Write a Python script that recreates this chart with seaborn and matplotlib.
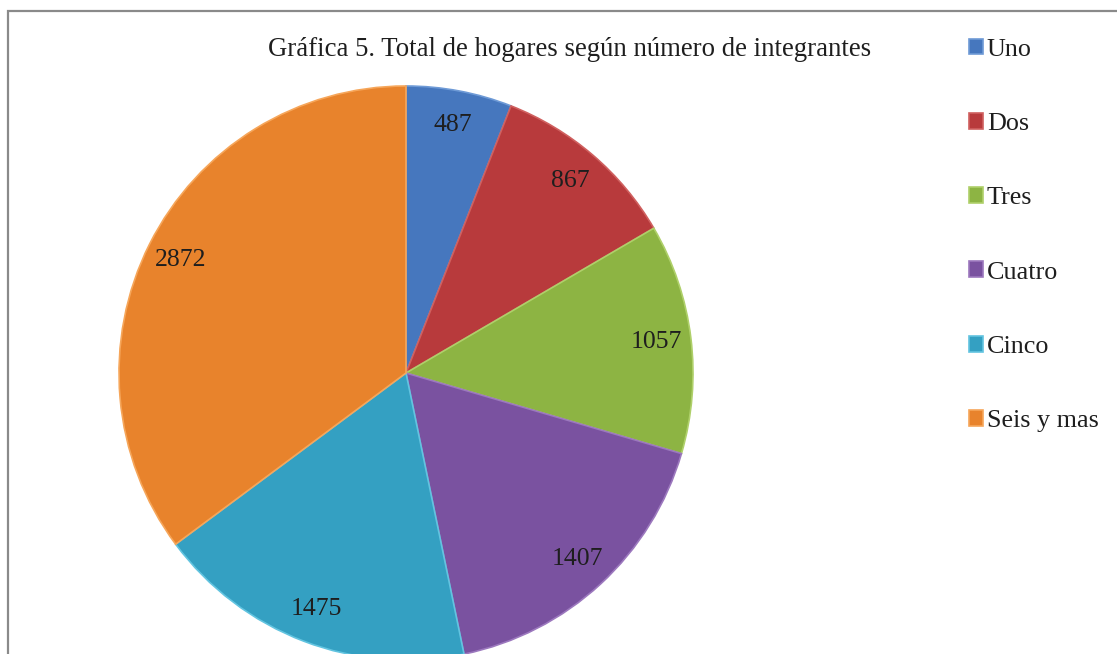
import matplotlib
matplotlib.use("Agg")
import matplotlib.pyplot as plt
from matplotlib.patches import Rectangle
import seaborn as sns

# Data
categorias = ["Uno", "Dos", "Tres", "Cuatro", "Cinco", "Seis y mas"]
hogares = [487, 867, 1057, 1407, 1475, 2872]
colores = ["#4677BE", "#B83A3C", "#8DB443", "#7A52A0", "#34A0C2", "#E8832C"]
bordes = ["#6E9AD6", "#D0605F", "#AFD06A", "#9C78BE", "#62C4E0", "#F6A65A"]
titulo = "Gráfica 5. Total de hogares según número de integrantes"


def main() -> None:
    sns.set_theme(style="white")
    plt.rcParams["font.family"] = ["Liberation Serif", "DejaVu Serif"]

    W, H = 1117, 654
    fig = plt.figure(figsize=(W / 100, H / 100), dpi=100)

    # frame around the chart area
    fig.patches.append(Rectangle((8 / W, -0.1), 1.2, 1.1 - 11 / H, transform=fig.transFigure,
                                 fill=False, edgecolor="#8a8a8a", linewidth=1.6))

    cx, cy, r = 406, 373, 287
    ax = fig.add_axes([(cx - r) / W, (H - cy - r) / H, 2 * r / W, 2 * r / H])
    total = sum(hogares)
    wedges, _, autotexts = ax.pie(
        hogares, colors=colores, startangle=90, counterclock=False,
        autopct=lambda p: f"{round(p * total / 100)}", pctdistance=0.88,
        wedgeprops=dict(linewidth=1.2), textprops=dict(fontsize=18.5, color="#1e1e1e"))
    for w, b in zip(wedges, bordes):
        w.set_edgecolor(b)
    ax.set_xlim(-1, 1)
    ax.set_ylim(-1, 1)
    ax.set_aspect("equal")
    ax.axis("off")
    for t in [ax.patches, ax.texts]:
        for a in t:
            a.set_clip_on(False)

    fig.text(570 / W, 1 - 49 / H, titulo, ha="center", va="center", fontsize=19.3, color="#1e1e1e")

    fig.legend(wedges, categorias, loc="upper left", bbox_to_anchor=(945 / W, 1 - 15 / H),
               frameon=False, fontsize=18.8, handlelength=0.55, handleheight=0.55,
               handletextpad=0.15, labelspacing=2.0, labelcolor="#1e1e1e")

    fig.savefig("out.png", dpi=100)


if __name__ == "__main__":
    main()
